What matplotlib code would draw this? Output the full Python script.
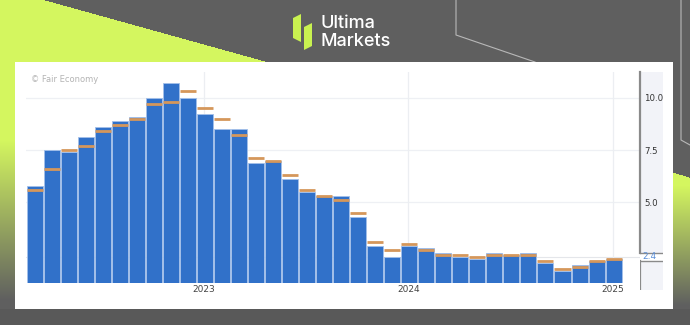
import numpy as np
import matplotlib
matplotlib.use("Agg")
import matplotlib.pyplot as plt
from matplotlib.patches import Rectangle, Polygon

# Eurozone flash CPI y/y, Feb 2022 .. Dec 2024 (actual vs forecast)
months = ["2022-02", "2022-03", "2022-04", "2022-05", "2022-06", "2022-07",
          "2022-08", "2022-09", "2022-10", "2022-11", "2022-12", "2023-01",
          "2023-02", "2023-03", "2023-04", "2023-05", "2023-06", "2023-07",
          "2023-08", "2023-09", "2023-10", "2023-11", "2023-12", "2024-01",
          "2024-02", "2024-03", "2024-04", "2024-05", "2024-06", "2024-07",
          "2024-08", "2024-09", "2024-10", "2024-11", "2024-12"]
actual = [5.8, 7.5, 7.4, 8.1, 8.6, 8.9, 9.1, 10.0, 10.7, 10.0, 9.2, 8.5,
          8.5, 6.9, 7.0, 6.1, 5.5, 5.3, 5.3, 4.3, 2.9, 2.4, 2.9, 2.8,
          2.6, 2.4, 2.3, 2.6, 2.5, 2.6, 2.1, 1.7, 2.0, 2.2, 2.3]
forecast = [5.6, 6.6, 7.5, 7.7, 8.4, 8.7, 9.0, 9.7, 9.8, 10.3, 9.5, 9.0,
            8.2, 7.1, 7.0, 6.3, 5.6, 5.3, 5.1, 4.5, 3.1, 2.7, 3.0, 2.7,
            2.5, 2.5, 2.4, 2.5, 2.5, 2.5, 2.2, 1.8, 1.9, 2.2, 2.3]
y_ticks = [5.0, 7.5, 10.0]
last_value = 2.4

W, H = 690, 325
def fx(px): return px / W
def fy(py): return 1 - py / H

gray = np.array([0x5f, 0x5f, 0x5f]) / 255
lime = np.array([0xd4, 0xf6, 0x5f]) / 255

fig = plt.figure(figsize=(W / 100, H / 100), dpi=100)

# background artwork
bg = fig.add_axes([0, 0, 1, 1])
bg.set_xlim(0, W); bg.set_ylim(H, 0); bg.axis("off")
yy, xx = np.mgrid[0:H, 0:W]
img = np.empty((H, W, 3)); img[:] = gray
tri = xx < 45 + 3.6 * yy
t_left = np.clip((yy - 140) / 160, 0, 1)[..., None]
left_col = lime * (1 - t_left) + gray * t_left
img = np.where(tri[..., None], left_col, img)
t_right = np.clip((yy - 185) / 120, 0, 1)[..., None]
right_col = lime * (1 - t_right) + gray * t_right
right_mask = (xx >= 672) & (yy >= 172 + (xx - 672) * 0.3)
img = np.where(right_mask[..., None], right_col, img)
img[309:, :] = np.array([0x59, 0x59, 0x59]) / 255
bg.imshow(img, extent=(0, W, H, 0), aspect="auto", zorder=0)
bg.plot([456, 456, 535], [0, 35, 62], color="#b8b8b8", lw=0.8, zorder=1)
bg.plot([681, 681, 690], [0, 140, 145], color="#b8b8b8", lw=0.8, zorder=1)
bg.add_patch(Rectangle((15, 62), 658, 247, facecolor="white", edgecolor="none", zorder=2))

# logo
bg.add_patch(Polygon([(293, 18), (301, 14), (301, 42), (293, 38)], closed=True,
                     facecolor="#c9f250", edgecolor="none", zorder=3))
bg.add_patch(Polygon([(304, 27), (312, 23), (312, 46), (304, 50)], closed=True,
                     facecolor="#c9f250", edgecolor="none", zorder=3))
bg.text(320, 24, "Ultima", color="white", fontsize=13, family="Inter",
        weight="medium", va="center", ha="left", zorder=3)
bg.text(320, 42, "Markets", color="white", fontsize=13, family="Inter",
        weight="medium", va="center", ha="left", zorder=3)

# right-hand value scale panel
y_top, y_bot = 11.23, 1.16
pax = fig.add_axes([fx(640), fy(290), fx(663) - fx(640), fy(72) - fy(290)])
pax.set_facecolor("#f2f3f8")
pax.set_xlim(0, 1)
pax_bot = 5 - (290 - 202.33) / 20.93
pax.set_ylim(pax_bot, y_top)
for s in pax.spines.values():
    s.set_visible(False)
pax.set_xticks([]); pax.set_yticks([])
box_hi, box_lo = 2.59, 2.21
pax.add_patch(Rectangle((0, box_lo), 1, box_hi - box_lo, facecolor="white", edgecolor="none"))
pax.plot([0, 1], [box_hi, box_hi], color="#8a8a8a", lw=1.0)
pax.plot([0, 1], [box_lo, box_lo], color="#8a8a8a", lw=1.0)
pax.plot([0, 0], [pax_bot, box_lo], color="#8a8a8a", lw=1.6)
pax.text(0.1, last_value, f"{last_value}", color="#5b8fd8", fontsize=6.5,
         va="center", ha="left")

# main chart
ax = fig.add_axes([fx(26), fy(282.7), fx(640) - fx(26), fy(72) - fy(282.7)])
ax.set_zorder(pax.get_zorder() + 1)
ax.set_facecolor("none")
n = len(months)
x = np.arange(n)
ax.set_xlim(-0.5, 35.55)
ax.set_ylim(y_bot, y_top)

for v in y_ticks:
    ax.axhline(v, color="#eef0f4", lw=0.9, zorder=0)
ax.axhline(last_value, color="#e4e6ea", lw=0.8, zorder=0)

# year boundaries fall just before the release of each December print
year_pos, year_lab = [], []
for i, m in enumerate(months):
    if m.endswith("-12"):
        year_pos.append(i - 0.05)
        year_lab.append(str(int(m[:4]) + 1))
for p in year_pos:
    ax.axvline(p, color="#eceef2", lw=0.9, zorder=0)

ax.bar(x, actual, width=0.94, bottom=0, color="#3171c9", edgecolor="#a3c0ea",
       linewidth=0.6, zorder=2)
ax.hlines(forecast, x - 0.47, x + 0.47, color="#d5975b", lw=2.0, zorder=3)

for s in ["top", "left", "bottom"]:
    ax.spines[s].set_visible(False)
ax.spines["right"].set_bounds(box_hi, y_top)
ax.spines["right"].set_color("#8a8a8a")
ax.spines["right"].set_linewidth(1.6)

ax.yaxis.tick_right()
ax.set_yticks(y_ticks, [f"{v:.1f}" for v in y_ticks])
ax.tick_params(axis="y", length=0, pad=3, labelsize=6.2, labelcolor="#333333")
ax.set_xticks(year_pos, year_lab)
ax.tick_params(axis="x", length=0, pad=1.5, labelsize=6.5, labelcolor="#444444")

fig.text(fx(31), fy(79), "\u00a9 Fair Economy", fontsize=6, color="#b4b4b4",
         va="center", ha="left")

fig.savefig("out.png", dpi=100)
